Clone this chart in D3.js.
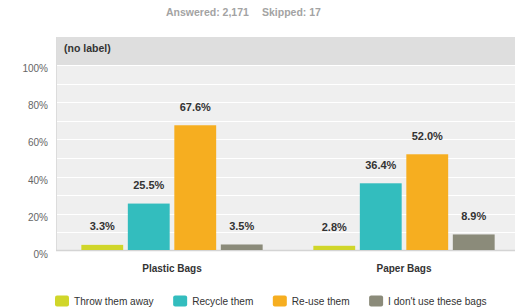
<!DOCTYPE html>
<head>
    <meta charset="utf-8">
    <script src="https://d3js.org/d3.v7.min.js"></script>
    <style>
        body { margin: 0; background: #fff; }
        svg { font-family: "Liberation Sans", Arial, sans-serif; }
        .tick-label { font-size: 10px; fill: #666; }
        .value-label { font-size: 11px; font-weight: bold; fill: #333; text-anchor: middle; }
        .group-label { font-size: 10px; font-weight: bold; fill: #333; text-anchor: middle; }
        .legend text { font-size: 10.1px; fill: #333; }
    </style>
</head>
<body>
<script>
    var width = 515,
        height = 308;

    var groups = ["Plastic Bags", "Paper Bags"];
    var series = ["Throw them away", "Recycle them", "Re-use them", "I don't use these bags"];
    var colors = ["#d0d62a", "#33bdbe", "#f6ae20", "#8b8b7a"];
    var plasticValues = [3.3, 25.5, 67.6, 3.5];
    var paperValues = [2.8, 36.4, 52.0, 8.9];
    var yTicks = [0, 20, 40, 60, 80, 100];
    var gridTicks = [10, 20, 30, 40, 50, 60, 70, 80, 90, 100];

    var table = [plasticValues, paperValues];

    var plotLeft = 56,
        plotTop = 65,
        plotBottom = 251;

    var svg = d3.select("body").append("svg")
        .attr("width", width)
        .attr("height", height);

    var x0 = d3.scaleBand()
        .domain(groups)
        .range([plotLeft, plotLeft + 464]);

    var x1 = d3.scaleBand()
        .domain(series)
        .range([0, x0.bandwidth()])
        .paddingInner(0.1)
        .paddingOuter(0.545);

    var y = d3.scaleLinear()
        .domain([0, 100])
        .range([plotBottom, plotTop]);

    // header text
    svg.append("text")
        .attr("x", 166)
        .attr("y", 16)
        .style("font-size", "10.5px")
        .style("font-weight", "bold")
        .style("fill", "#a3a3a3")
        .text("Answered: 2,171");

    svg.append("text")
        .attr("x", 262)
        .attr("y", 16)
        .style("font-size", "10.5px")
        .style("font-weight", "bold")
        .style("fill", "#a3a3a3")
        .text("Skipped: 17");

    // label band
    svg.append("rect")
        .attr("x", plotLeft)
        .attr("y", 37)
        .attr("width", width - plotLeft)
        .attr("height", plotTop - 37)
        .attr("fill", "#dedede");

    svg.append("text")
        .attr("x", 64)
        .attr("y", 52)
        .style("font-size", "10.5px")
        .style("font-weight", "bold")
        .style("fill", "#333")
        .text("(no label)");

    // plot background
    svg.append("rect")
        .attr("x", plotLeft)
        .attr("y", plotTop)
        .attr("width", width - plotLeft)
        .attr("height", plotBottom - plotTop)
        .attr("fill", "#efefef");

    svg.append("line")
        .attr("x1", plotLeft + 0.5)
        .attr("x2", plotLeft + 0.5)
        .attr("y1", 37)
        .attr("y2", plotBottom)
        .attr("stroke", "#dcdcdc");

    svg.append("g")
        .selectAll("line")
        .data(gridTicks)
        .enter().append("line")
        .attr("x1", plotLeft + 1)
        .attr("x2", width)
        .attr("y1", function(d) { return Math.round(y(d)) + 0.5; })
        .attr("y2", function(d) { return Math.round(y(d)) + 0.5; })
        .attr("stroke", "#fff")
        .attr("stroke-width", 1.2);

    svg.append("line")
        .attr("x1", plotLeft)
        .attr("x2", width)
        .attr("y1", plotBottom - 0.5)
        .attr("y2", plotBottom - 0.5)
        .attr("stroke", "#d4d4d4")
        .attr("stroke-width", 1.5);

    svg.append("g")
        .selectAll("text")
        .data(yTicks)
        .enter().append("text")
        .attr("class", "tick-label")
        .attr("x", 48)
        .attr("y", function(d) { return y(d) + 7; })
        .attr("text-anchor", "end")
        .text(function(d) { return d + "%"; });

    // bars
    var group = svg.append("g")
        .selectAll("g")
        .data(groups)
        .enter().append("g")
        .attr("transform", function(d) { return "translate(" + x0(d) + ",0)"; });

    group.selectAll("rect")
        .data(function(d, i) {
            return series.map(function(s, j) { return { key: s, value: table[i][j], color: colors[j] }; });
        })
        .enter().append("rect")
        .attr("x", function(d) { return x1(d.key); })
        .attr("y", function(d) { return y(d.value); })
        .attr("width", x1.bandwidth())
        .attr("height", function(d) { return plotBottom - 1 - y(d.value); })
        .attr("fill", function(d) { return d.color; });

    group.selectAll(".value-label")
        .data(function(d, i) {
            return series.map(function(s, j) { return { key: s, value: table[i][j] }; });
        })
        .enter().append("text")
        .attr("class", "value-label")
        .attr("x", function(d) { return x1(d.key) + x1.bandwidth() / 2; })
        .attr("y", function(d) { return y(d.value) - 14.5; })
        .text(function(d) { return d.value.toFixed(1) + "%"; });

    group.append("text")
        .attr("class", "group-label")
        .attr("x", x0.bandwidth() / 2)
        .attr("y", 272)
        .text(function(d) { return d; });

    // legend
    var legend = svg.append("g")
        .attr("class", "legend");

    var lx = 55;
    series.forEach(function(s, i) {
        legend.append("rect")
            .attr("x", lx)
            .attr("y", 295.5)
            .attr("width", 14)
            .attr("height", 11)
            .attr("rx", 2)
            .attr("fill", colors[i]);
        var t = legend.append("text")
            .attr("x", lx + 19)
            .attr("y", 305)
            .text(s);
        lx = lx + 19 + t.node().getComputedTextLength() + 19.5;
    });
</script>
</body>
